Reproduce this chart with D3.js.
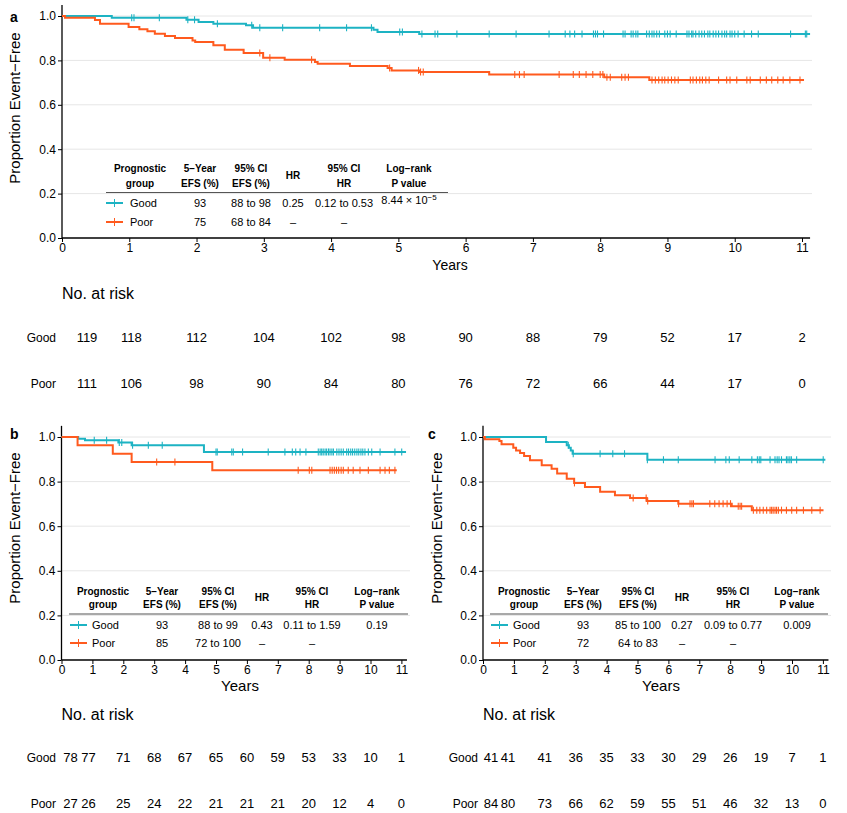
<!DOCTYPE html>
<html><head><meta charset="utf-8">
<script src="https://cdn.jsdelivr.net/npm/d3@7"></script>
<style>
body{margin:0;background:#fff}
text{font-family:"Liberation Sans",Arial,Helvetica,sans-serif;fill:#000}
</style></head><body>
<svg id="chart" width="847" height="813"></svg>
<script>
var GOOD = '#1DB3C3', POOR = '#FF5A1E'
var tickYears = d3.range(0, 12)
var yTicks = [0, 0.2, 0.4, 0.6, 0.8, 1.0]
var groups = ['Good', 'Poor']
var tableHead = [['Prognostic', 'group'], ['5\u2212Year', 'EFS (%)'], ['95% CI', 'EFS (%)'], ['HR'], ['95% CI', 'HR'], ['Log\u2212rank', 'P value']]

// panel a : step times / survival, censor times
var aGoodTime = [0, 0.74, 1.85, 2.03, 2.25, 2.735, 2.84, 4.63, 4.69, 5.31]
var aGoodSurv = [1, 0.992, 0.983, 0.973, 0.965, 0.958, 0.947, 0.938, 0.928, 0.919]
var aGoodEnd = 11.12
var aGoodCens = [1.036, 1.07, 1.447, 1.87, 1.97, 2.31, 2.82, 2.94, 3.28, 3.83, 4.23, 4.6, 5.02, 5.06, 5.35, 5.545, 5.585, 5.87, 6.35, 6.75, 7.24,
    7.48, 7.55, 7.62, 7.73, 7.9, 7.93, 7.96, 8.05, 8.34, 8.37, 8.46, 8.49, 8.53, 8.56, 8.69, 8.73, 8.77, 8.8, 8.84, 8.88, 8.96, 9.0, 9.04, 9.13,
    9.29, 9.32, 9.36, 9.38, 9.42, 9.47, 9.51, 9.55, 9.6, 9.63, 9.68, 9.72, 9.76, 9.81, 9.85, 9.88, 9.93, 9.96, 10.0, 10.05, 10.14, 10.25, 10.35, 10.83, 11.05, 11.07]
var aPoorTime = [0, 0.045, 0.49, 0.565, 0.99, 1.15, 1.27, 1.38, 1.53, 1.68, 1.94, 1.98, 2.25, 2.42, 2.7, 2.99, 3.31, 3.76, 3.8, 4.28, 4.84, 4.9, 5.31, 6.35, 8.06, 8.73]
var aPoorSurv = [1, 0.992, 0.982, 0.965, 0.950, 0.940, 0.931, 0.920, 0.910, 0.901, 0.890, 0.883, 0.868, 0.848, 0.833, 0.812, 0.803, 0.793, 0.785, 0.775, 0.766, 0.755, 0.748, 0.736, 0.724, 0.712]
var aPoorEnd = 11.03
var aPoorCens = [2.94, 3.09, 3.71, 4.87, 5.3, 5.33, 5.37, 6.73, 6.8, 6.87, 7.39, 7.6, 7.69, 7.79, 7.89, 8.0, 8.04, 8.1, 8.15, 8.32, 8.37, 8.42,
    8.77, 8.82, 8.87, 8.92, 8.96, 9.01, 9.06, 9.11, 9.16, 9.34, 9.38, 9.43, 9.48, 9.52, 9.57, 9.62, 9.76, 9.88, 9.93, 10.03, 10.18, 10.23,
    10.38, 10.47, 10.55, 10.64, 10.72, 10.82, 10.97]
var aGoodRow = ['93', '88 to 98', '0.25', '0.12 to 0.53', '8.44 \u00d7 10^\u22125']
var aPoorRow = ['75', '68 to 84', '\u2013', '\u2013', '']
var aRiskGood = [119, 118, 112, 104, 102, 98, 90, 88, 79, 52, 17, 2]
var aRiskPoor = [111, 106, 98, 90, 84, 80, 76, 72, 66, 44, 17, 0]

// panel b
var bGoodTime = [0, 0.54, 0.76, 1.84, 2.27, 4.61]
var bGoodSurv = [1, 0.992, 0.985, 0.975, 0.963, 0.933]
var bGoodEnd = 11.15
var bGoodCens = [1.06, 1.46, 1.87, 1.95, 2.3, 2.81, 3.26, 5.0, 5.04, 5.51, 5.56, 5.86, 6.69, 7.23, 7.47, 7.58, 7.72, 7.91,
    8.31, 8.37, 8.42, 8.47, 8.53, 8.58, 8.64, 8.69, 8.75, 8.8, 8.91, 8.98, 9.05, 9.12, 9.23, 9.29, 9.36, 9.42, 9.49, 9.56, 9.62, 9.69, 9.75, 9.82,
    9.93, 10.04, 10.31, 10.79, 11.01]
var bPoorTime = [0, 0.52, 1.66, 2.27, 4.88]
var bPoorSurv = [1, 0.963, 0.925, 0.888, 0.851]
var bPoorEnd = 10.85
var bPoorCens = [3.08, 3.67, 7.66, 8.02, 8.1, 8.69, 8.76, 8.83, 8.9, 8.97, 9.05, 9.12, 9.28, 9.44, 9.66, 9.93, 10.31, 10.47, 10.61, 10.79]
var bGoodRow = ['93', '88 to 99', '0.43', '0.11 to 1.59', '0.19']
var bPoorRow = ['85', '72 to 100', '\u2013', '\u2013', '']
var bRiskGood = [78, 77, 71, 68, 67, 65, 60, 59, 53, 33, 10, 1]
var bRiskPoor = [27, 26, 25, 24, 22, 21, 21, 21, 20, 12, 4, 0]

// panel c
var cGoodTime = [0, 2.04, 2.71, 2.78, 2.84, 2.9, 5.32]
var cGoodSurv = [1, 0.978, 0.963, 0.952, 0.94, 0.925, 0.898]
var cGoodEnd = 11.08
var cGoodCens = [2.76, 2.92, 3.79, 4.2, 4.58, 5.32, 5.84, 6.32, 7.51, 7.86, 7.97, 8.29, 8.7, 8.88, 8.94, 8.99, 9.29, 9.45, 9.52, 9.58, 9.66,
    9.82, 9.87, 9.93, 9.98, 10.15, 11.01]
var cPoorTime = [0, 0.06, 0.53, 0.6, 0.98, 1.07, 1.2, 1.33, 1.52, 1.9, 2.22, 2.4, 2.71, 2.95, 3.3, 3.79, 4.27, 4.76, 5.3, 6.32, 8.05, 8.7]
var cPoorSurv = [1, 0.99, 0.982, 0.967, 0.952, 0.94, 0.928, 0.915, 0.896, 0.873, 0.858, 0.836, 0.813, 0.794, 0.776, 0.754, 0.739, 0.727, 0.713, 0.701, 0.69, 0.672]
var cPoorEnd = 11.02
var cPoorCens = [2.96, 4.86, 5.28, 5.33, 6.33, 6.7, 6.76, 6.81, 7.34, 7.5, 7.64, 7.77, 7.9, 8.01, 8.26, 8.32, 8.37,
    8.75, 8.86, 8.96, 9.07, 9.18, 9.29, 9.34, 9.39, 9.45, 9.5, 9.56, 9.66, 9.82, 9.99, 10.15, 10.37, 10.64, 10.91]
var cGoodRow = ['93', '85 to 100', '0.27', '0.09 to 0.77', '0.009']
var cPoorRow = ['72', '64 to 83', '\u2013', '\u2013', '']
var cRiskGood = [41, 41, 41, 36, 35, 33, 30, 29, 26, 19, 7, 1]
var cRiskPoor = [84, 80, 73, 66, 62, 59, 55, 51, 46, 32, 13, 0]

var panels = [
    {name: 'a', xr: [62, 802], yr: [238, 16], xMax: 11.12, gridEnd: 812, labelX: 10, labelY: 22,
        titleX: 15, titleY: 108, yearsX: 450, yearsY: 270, yearsSize: 14,
        riskTitleY: 299, riskY: [341.5, 387.5], riskLabelX: 56, riskShift: [25, 2],
        tbl: {cols: [140, 200, 251, 293, 344, 409], rule: [106, 448], hy: [171.5, 186.5], ruleY: 192.5, rows: [207, 226], leg: [106, 123], legText: 130},
        curves: [[aGoodTime, aGoodSurv, aGoodEnd, aGoodCens], [aPoorTime, aPoorSurv, aPoorEnd, aPoorCens]],
        rowsData: [aGoodRow, aPoorRow], risk: [aRiskGood, aRiskPoor]},
    {name: 'b', xr: [61.5, 401.4], yr: [660, 437], xMax: 11.18, gridEnd: 410, labelX: 10, labelY: 439,
        titleX: 15, titleY: 528, yearsX: 240, yearsY: 691, yearsSize: 15,
        riskTitleY: 720, riskY: [761.5, 807.5], riskLabelX: 56, riskShift: [9, -4],
        tbl: {cols: [103, 162, 218, 262, 312, 377], rule: [69, 408], hy: [594.5, 607.5], ruleY: 614, rows: [629, 647], leg: [70, 87], legText: 92},
        curves: [[bGoodTime, bGoodSurv, bGoodEnd, bGoodCens], [bPoorTime, bPoorSurv, bPoorEnd, bPoorCens]],
        rowsData: [bGoodRow, bPoorRow], risk: [bRiskGood, bRiskPoor]},
    {name: 'c', xr: [483, 822.9], yr: [660, 437], xMax: 11.18, gridEnd: 831, labelX: 428, labelY: 439,
        titleX: 437, titleY: 528, yearsX: 661, yearsY: 691, yearsSize: 15,
        riskTitleY: 720, riskY: [761.5, 807.5], riskLabelX: 478, riskShift: [8, -6],
        tbl: {cols: [524, 583, 638, 682, 733, 797], rule: [490, 828], hy: [594.5, 607.5], ruleY: 614, rows: [629, 647], leg: [491, 508], legText: 513},
        curves: [[cGoodTime, cGoodSurv, cGoodEnd, cGoodCens], [cPoorTime, cPoorSurv, cPoorEnd, cPoorCens]],
        rowsData: [cGoodRow, cPoorRow], risk: [cRiskGood, cRiskPoor]}
]

var svg = d3.select('#chart')
var colors = [GOOD, POOR]

function survAt(times, surv, t) {
    var i = d3.bisectRight(times, t) - 1
    return surv[Math.max(0, i)]
}

panels.forEach(function(p) {
    var x = d3.scaleLinear().domain([0, 11]).range(p.xr)
    var y = d3.scaleLinear().domain([0, 1]).range(p.yr)
    var g = svg.append('g')

    // grid
    g.selectAll('.grid').data(yTicks.slice(1)).enter().append('line')
        .attr('x1', x(0)).attr('x2', p.gridEnd)
        .attr('y1', d => y(d)).attr('y2', d => y(d))
        .attr('stroke', '#e6e6e6').attr('stroke-width', 1)

    // axes
    var xAxis = d3.axisBottom(x).tickValues(tickYears).tickSize(4).tickFormat(d3.format('d'))
    var ax = g.append('g').attr('transform', 'translate(0,' + y(0) + ')').call(xAxis)
    ax.select('.domain').attr('d', 'M' + x(0) + ',0H' + x(p.xMax)).attr('stroke-width', 1.3)
    ax.selectAll('text').attr('font-size', 12).attr('dy', '0.72em').attr('y', 5)

    var yAxis = d3.axisLeft(y).tickValues(yTicks).tickSize(4).tickFormat(d3.format('.1f'))
    var ay = g.append('g').attr('transform', 'translate(' + x(0) + ',0)').call(yAxis)
    ay.select('.domain').attr('d', 'M0,' + y(0) + 'V' + y(1.05)).attr('stroke-width', 1.3)
    ay.selectAll('text').attr('font-size', 12).attr('x', -6)

    // curves
    var line = d3.line().x(d => x(d[0])).y(d => y(d[1])).curve(d3.curveStepAfter)
    p.curves.forEach(function(c, k) {
        var pts = c[0].map((t, i) => [t, c[1][i]])
        pts.push([c[2], c[1][c[1].length - 1]])
        g.append('path').datum(pts).attr('d', line)
            .attr('fill', 'none').attr('stroke', colors[k]).attr('stroke-width', 2)
        g.selectAll('.cens' + k).data(c[3]).enter().append('line')
            .attr('x1', d => x(d)).attr('x2', d => x(d))
            .attr('y1', d => y(survAt(c[0], c[1], d)) - 3.5)
            .attr('y2', d => y(survAt(c[0], c[1], d)) + 3.5)
            .attr('stroke', colors[k]).attr('stroke-width', 1.1)
    })

    // table inside plot
    var t = p.tbl
    tableHead.forEach(function(h, i) {
        var lines = h.length === 1 ? [(t.hy[0] + t.hy[1]) / 2] : t.hy
        h.forEach(function(s, j) {
            g.append('text').attr('x', t.cols[i]).attr('y', lines[j])
                .attr('text-anchor', 'middle').attr('font-size', 10).attr('font-weight', 'bold').text(s)
        })
    })
    g.append('line').attr('x1', t.rule[0]).attr('x2', t.rule[1]).attr('y1', t.ruleY).attr('y2', t.ruleY)
        .attr('stroke', '#555').attr('stroke-width', 1.2)
    p.rowsData.forEach(function(row, r) {
        var ry = t.rows[r]
        g.append('line').attr('x1', t.leg[0]).attr('x2', t.leg[1]).attr('y1', ry - 4).attr('y2', ry - 4)
            .attr('stroke', colors[r]).attr('stroke-width', 2)
        g.append('line').attr('x1', (t.leg[0] + t.leg[1]) / 2).attr('x2', (t.leg[0] + t.leg[1]) / 2)
            .attr('y1', ry - 8).attr('y2', ry).attr('stroke', colors[r]).attr('stroke-width', 1)
        g.append('text').attr('x', t.legText).attr('y', ry).attr('font-size', 11).text(groups[r])
        row.forEach(function(v, i) {
            var parts = v.split('^')
            var tx = g.append('text').attr('x', t.cols[i + 1]).attr('y', parts.length > 1 ? ry - 3 : ry)
                .attr('text-anchor', 'middle').attr('font-size', 11)
            tx.append('tspan').text(parts[0])
            if (parts.length > 1) {
                tx.append('tspan').attr('dy', -4).attr('font-size', 8).text(parts[1])
            }
        })
    })

    // labels
    g.append('text').attr('x', p.labelX).attr('y', p.labelY).attr('font-size', 14).attr('font-weight', 'bold').text(p.name)
    g.append('text').attr('transform', 'translate(' + (p.titleX + 5) + ',' + p.titleY + ') rotate(-90)')
        .attr('text-anchor', 'middle').attr('font-size', 15).text('Proportion Event\u2212Free')
    g.append('text').attr('x', p.yearsX).attr('y', p.yearsY).attr('text-anchor', 'middle')
        .attr('font-size', p.yearsSize).text('Years')

    // risk table
    g.append('text').attr('x', x(0)).attr('y', p.riskTitleY).attr('font-size', 16).text('No. at risk')
    p.risk.forEach(function(vals, r) {
        g.append('text').attr('x', p.riskLabelX).attr('y', p.riskY[r]).attr('text-anchor', 'end')
            .attr('font-size', 12).text(groups[r])
        g.selectAll('.risk' + r).data(vals).enter().append('text')
            .attr('x', (d, i) => x(i) + (i < 2 ? p.riskShift[i] : 0))
            .attr('y', p.riskY[r]).attr('text-anchor', 'middle').attr('font-size', 13)
            .text(d => d)
    })
})
</script>
</body></html>
